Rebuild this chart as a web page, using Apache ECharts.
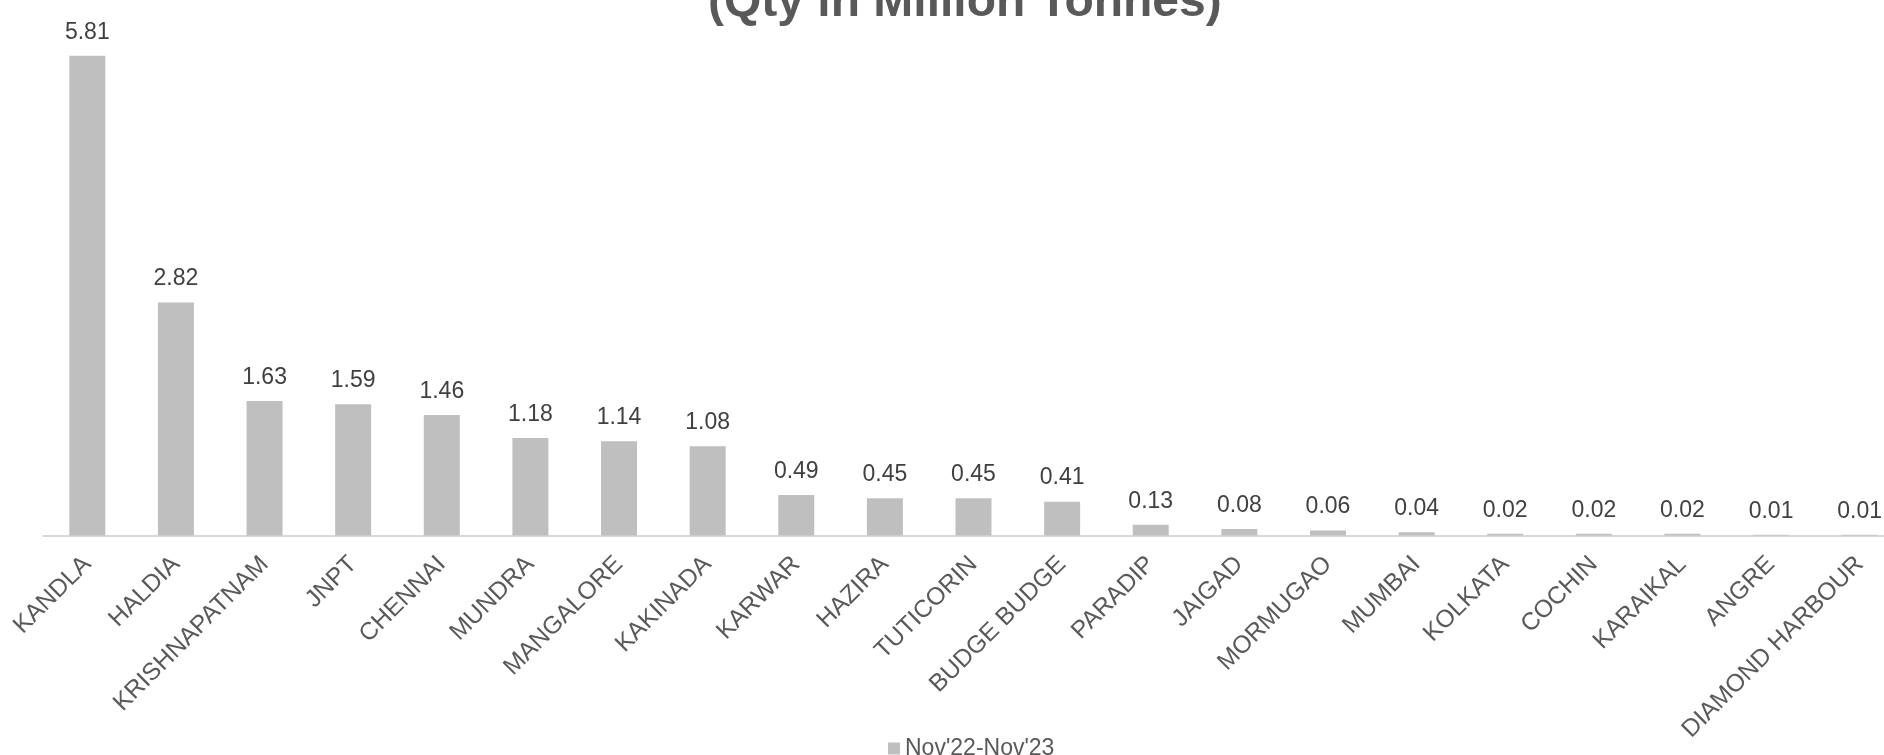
<!DOCTYPE html>
<html>
<head>
<meta charset="utf-8">
<style>
  html, body { margin: 0; padding: 0; background: #fff; }
</style>
</head>
<body>
<div id="main" style="width: 1884px;height:755px;"></div>
<script src="https://cdn.jsdelivr.net/npm/echarts@6/dist/echarts.min.js"></script>
<script type="text/javascript">

    // ports, sorted by volume
    var ports = ['KANDLA', 'HALDIA', 'KRISHNAPATNAM', 'JNPT', 'CHENNAI', 'MUNDRA', 'MANGALORE',
        'KAKINADA', 'KARWAR', 'HAZIRA', 'TUTICORIN', 'BUDGE BUDGE', 'PARADIP', 'JAIGAD',
        'MORMUGAO', 'MUMBAI', 'KOLKATA', 'COCHIN', 'KARAIKAL', 'ANGRE', 'DIAMOND HARBOUR'];
    var qty = [5.81, 2.82, 1.63, 1.59, 1.46, 1.18, 1.14, 1.08, 0.49, 0.45, 0.45, 0.41,
        0.13, 0.08, 0.06, 0.04, 0.02, 0.02, 0.02, 0.01, 0.01];
    var seriesName = "Nov'22-Nov'23";
    var titleText = '(Qty in Million Tonnes)';

    var font = '"Liberation Sans", Arial, sans-serif';
    var myChart = echarts.init(document.getElementById('main'));

    var option = {
        animation: false,
        backgroundColor: '#ffffff',
        title: {
            text: titleText,
            left: 703,
            top: -26,
            textStyle: {
                fontFamily: font,
                fontSize: 48,
                fontWeight: 'bold',
                color: '#595959'
            }
        },
        legend: {
            data: [seriesName],
            left: 883,
            top: 732,
            itemWidth: 12,
            itemHeight: 12,
            itemGap: 6,
            icon: 'rect',
            textStyle: {
                fontFamily: font,
                fontSize: 23,
                color: '#595959'
            }
        },
        grid: {
            left: 43,
            top: 40,
            width: 1861,
            bottom: 219.5,
            containLabel: false,
            outerBoundsMode: 'none'
        },
        xAxis: {
            type: 'category',
            data: ports,
            axisLine: { lineStyle: { color: '#d9d9d9', width: 2 } },
            axisTick: { show: false },
            axisLabel: {
                rotate: 45,
                interval: 0,
                margin: 25,
                fontFamily: font,
                fontSize: 24.5,
                color: '#595959'
            }
        },
        yAxis: {
            type: 'value',
            min: 0,
            max: 6,
            show: false,
            splitLine: { show: false }
        },
        series: [{
            name: seriesName,
            type: 'bar',
            data: qty,
            barWidth: 36,
            itemStyle: { color: '#bfbfbf' },
            label: {
                show: true,
                position: 'top',
                distance: 12,
                fontFamily: font,
                fontSize: 23,
                color: '#404040',
                formatter: function (p) { return p.value.toFixed(2); }
            }
        }]
    };

    myChart.setOption(option);
</script>
</body>
</html>
